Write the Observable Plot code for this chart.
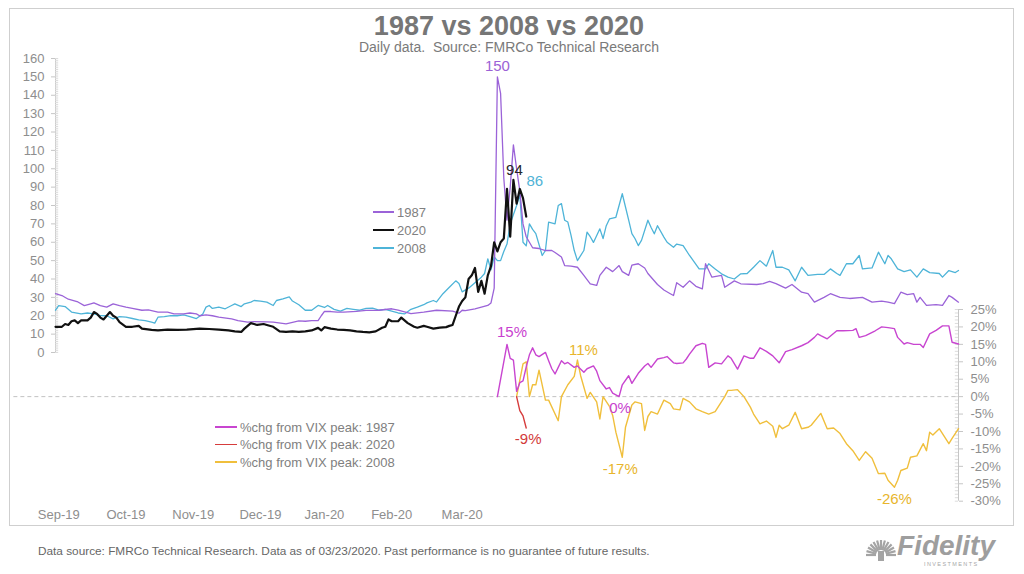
<!DOCTYPE html>
<html>
<head>
<meta charset="utf-8">
<script src="https://cdn.jsdelivr.net/npm/d3@7"></script>
<script src="https://cdn.jsdelivr.net/npm/@observablehq/plot@0.6"></script>
<style>
  html, body { margin:0; padding:0; background:#fff; }
  body { width:1024px; height:574px; overflow:hidden; position:relative; font-family:"Liberation Sans", Arial, Helvetica, sans-serif; }
  #frame { position:absolute; left:9px; top:8px; width:1005px; height:518px; border:1px solid #cfcfcf; box-sizing:border-box; }
  .layer { position:absolute; left:0; top:0; }
  #title { position:absolute; left:0; width:1018px; top:13px; text-align:center; font-size:27px; line-height:27px; font-weight:bold; color:#767676; }
  #subtitle { position:absolute; left:0; width:1018px; top:40px; text-align:center; font-size:14px; line-height:14px; color:#7a7a7a; white-space:pre; }
  .leg { position:absolute; font-size:13px; line-height:13px; color:#808080; white-space:pre; display:flex; align-items:center; }
  .leg .sw { display:inline-block; margin-right:3px; }
  #foot { position:absolute; left:38px; top:545px; font-size:11.8px; line-height:12px; color:#666; white-space:pre; }
  #logo { position:absolute; left:862px; top:531px; }
</style>
</head>
<body>
<div id="frame"></div>
<div id="chart"></div>
<div id="title">1987 vs 2008 vs 2020</div>
<div id="subtitle">Daily data.  Source: FMRCo Technical Research</div>
<div id="legends"></div>
<div id="foot">Data source: FMRCo Technical Research. Data as of 03/23/2020. Past performance is no guarantee of future results.</div>
<div id="logo"></div>
<script>
// ---------------- DATA (trading-day index, value) ----------------
const vix1987 = [[0,32],[2,31],[4,29],[7,27.5],[9,25.5],[11,26.5],[12,27],[14,25.5],[16,24.7],[18,26.5],[20,25.5],[22,24.7],[24,24],[27,23],[29,23.2],[32,22],[35,22],[37,21],[40,21],[42,21.5],[44,21],[45,20],[47,20.5],[49,20],[51,19.2],[55,18.3],[57,17.4],[60,16.5],[62,16.8],[66,16.7],[68,16.5],[72,15.6],[73,16],[76,17.2],[78,17],[80,17.4],[82,17.4],[83,20],[84,22.4],[86,22.3],[88,22],[90,22],[94,22.4],[97,22.9],[101,23],[105,23.8],[107,23],[111,21.2],[115,22],[119,23],[124,22.5],[126,21.4],[127,23],[128,22.8],[131,23.8],[133,24.7],[135,25.6],[136,27],[137,35],[138,150],[139,141],[140,95],[141,72],[142,90],[143,113],[144,100],[145,88],[146,70],[147,63],[148,60],[149,57],[151,56.6],[153,55.5],[155,55.5],[156,54.4],[158,52],[159,47.3],[161,47],[163,46.4],[165,42],[167,37.4],[169,36.5],[170,42],[172,46.4],[174,44],[176,47.3],[177,44],[179,42],[180,47.5],[182,48.3],[184,46],[185,43],[188,37],[190,34],[192,32],[193,31],[194,38],[196,35.5],[198,39],[200,36],[202,34.6],[203,48.3],[205,41],[208,42],[209,35.5],[212,39],[214,37.4],[219,37],[221,37.5],[223,38.7],[225,37.5],[228,35],[230,37],[233,32.8],[235,32],[237,27.4],[240,30],[242,32],[245,30],[248,29.4],[252,30],[255,27.4],[258,28],[260,27.4],[262,26.6],[264,32.8],[266,31.5],[268,32],[269,27.4],[270,30],[272,25.6],[275,26],[277,25.6],[279,31],[280,30],[282,27.4]];

const vix2020 = [[0,14],[2,14],[3,15.5],[4,15],[5,17],[6,17.5],[7,16],[8,17.5],[10,17.5],[11,19],[12,22],[13,21],[14,19],[15,18],[16,20],[17,22],[18,20],[19,19],[20,16.5],[22,14],[24,14],[26,14.5],[27,13],[30,12.3],[32,12],[35,12.5],[38,12.3],[41,12.5],[45,13],[48,12.8],[51,12.5],[54,12],[56,11.5],[58,11.2],[59,13],[61,16],[62,15.5],[63,15],[65,15.5],[66,15],[68,14],[70,11.5],[72,11.2],[74,11.5],[76,11.2],[78,11.5],[80,12],[82,13.4],[83,12],[84,13.8],[86,13],[88,12.5],[90,12.3],[92,12],[94,11.5],[96,11.2],[98,11],[100,11.5],[102,13.5],[103,14],[104,18],[105,17],[107,17],[108,19],[109,17.5],[110,16],[112,14],[113,13.5],[115,14.5],[116,14],[118,13],[120,13.5],[122,13.8],[123,14.5],[124,15],[125,20],[126,25],[127,28],[128,30],[129,40],[130,42],[131,46],[132,33],[133,39],[134,32],[135,42],[136,47],[137,60],[138,55],[139,60],[140,62],[141,89],[142,63],[143,94],[144,81],[145,89],[146,84],[147,74]];

const vix2008 = [[0,23],[1,25.5],[3,25],[5,22],[8,21],[10,21.5],[12,21],[14,20.1],[16,20],[18,18.3],[20,19.5],[22,19.2],[24,18.5],[26,17.8],[28,17.4],[30,16.5],[31,16],[32,19.2],[34,19.5],[36,20.1],[38,20],[40,20.5],[42,19.5],[44,18.5],[46,21],[47,24.7],[48,25.6],[49,24],[51,24.7],[53,23.8],[55,25.6],[56,26.5],[58,25],[59,26.5],[61,27.4],[62,28.3],[64,28],[66,27.4],[68,25.6],[69,28.3],[71,29.2],[73,30.3],[74,28],[76,26],[78,23],[80,23],[82,25.6],[84,24.5],[85,25.6],[87,23.5],[89,22.5],[91,24],[93,23.5],[95,23],[97,24],[99,24.2],[101,23],[103,23.5],[105,22.5],[107,21.5],[109,21],[111,23.5],[113,24.7],[115,26],[116,27],[118,28.3],[119,27.5],[121,32],[123,35.5],[125,39],[126,37.5],[127,33],[129,35],[131,38],[133,41],[134,43],[135,51],[136,45],[137,52],[138,50],[139,50],[140,55],[141,59],[142,70],[144,80],[145,86],[146,60],[147,58],[148,70],[149,67],[150,64.7],[152,52.8],[153,55.5],[154,71],[156,70],[157,80],[158,81],[159,72],[160,71],[161,63.7],[162,55.5],[163,50],[165,55.5],[166,65.5],[167,63],[168,59.9],[170,67.3],[171,62],[172,69],[173,72.7],[175,73.6],[177,86.4],[179,72],[180,64.7],[181,61.9],[182,58.2],[183,61],[185,72],[186,68],[187,64.6],[188,69],[190,62.8],[191,60],[193,57.3],[194,59],[196,58.2],[198,52.8],[201,45.5],[203,45.5],[204,48.3],[206,45.5],[208,42.8],[210,41],[212,40],[214,42.8],[216,43],[218,46.4],[220,50],[222,47],[224,55.5],[225,46.4],[227,46.4],[229,45],[231,39],[233,46.4],[235,42],[238,42.5],[240,42.5],[242,45.5],[244,43],[245,42],[247,48.3],[249,48.3],[251,52.8],[252,45.5],[255,46],[257,54.6],[259,48.3],[260,52.8],[261,51],[263,45.5],[265,44],[267,45],[269,41],[271,45.5],[273,43.5],[276,43],[277,41],[279,44.6],[281,43.5],[282,44.6]];

const pct1987 = [[138,0],[141,15],[142,11],[143,10.5],[144,1.5],[145,4],[146,4.5],[147,8.5],[148,12],[149,14],[150,12],[151,11.5],[153,12.7],[154,10.3],[155,8],[156,6.5],[157,8.4],[158,10.3],[159,9.4],[160,9.8],[162,8.4],[163,8.8],[165,7],[166,8],[168,8.8],[169,7.3],[170,4.6],[172,2.2],[173,2.6],[174,1],[176,0],[177,3.4],[179,6],[180,3.8],[182,6.7],[184,8.8],[185,9.5],[186,8.4],[188,10.8],[190,11.2],[191,11.5],[193,9.7],[194,9.5],[196,9.7],[197,10.8],[198,12.2],[200,14.6],[202,15.3],[203,15],[204,8.4],[206,9.7],[208,9.4],[210,11.7],[211,11],[213,7.9],[215,11.7],[217,11],[218,11],[220,14],[222,13],[224,11.7],[226,9.7],[228,12.9],[230,13.5],[233,14.6],[235,15.5],[237,17],[238,18],[239,17.5],[241,16.6],[244,18.9],[246,18.9],[249,19],[250,19.5],[251,17],[253,17.5],[256,18.9],[258,20],[260,19.8],[262,19.5],[263,17],[265,15.1],[266,15.5],[268,15],[270,15],[271,14.1],[273,18],[275,19],[277,20.3],[279,20.3],[280,15.6],[282,15.1]];

const pct2020 = [[144,0],[145,-4],[146,-5.5],[147,-9]];

const pct2008 = [[144,0],[146,9.4],[147,10],[148,0],[149,3.4],[150,3.4],[151,7.6],[153,-1],[154,-1],[157,-6.9],[158,0],[160,3.4],[162,5.8],[163,10.5],[164,6],[166,-0.5],[167,1.2],[169,-1.5],[170,-6.4],[171,0],[173,-2.8],[174,-5.4],[175,-10.2],[177,-17.4],[178,-8.8],[180,-2.4],[181,-1.5],[183,-2],[184,-9.7],[185,-5.7],[186,-4.3],[188,-5],[190,-1],[192,-2],[193,-3.5],[195,-3.8],[196,-0.5],[198,-1.5],[200,-3.5],[202,-4.3],[204,-5],[206,-4.3],[208,-1.4],[209,0],[210,1.8],[211,1.8],[213,2],[215,0],[217,-3],[218,-5],[220,-7.8],[222,-7],[224,-8.5],[225,-11.7],[226,-8.2],[227,-9.2],[229,-8.2],[231,-4.5],[233,-9.2],[235,-8.8],[236,-8.2],[239,-4.8],[241,-9.2],[243,-9],[245,-10.6],[247,-13.5],[249,-15.5],[251,-18.3],[253,-15.8],[255,-17.7],[257,-22.1],[259,-22],[260,-24],[262,-26],[263,-24],[264,-21.2],[266,-20.5],[267,-17.4],[269,-17],[271,-13.5],[272,-15.5],[273,-10.2],[274,-11],[276,-9.2],[279,-13.5],[280,-12],[282,-9.2]];

const monthTicks  = [1, 22, 43, 64, 84, 105, 127];
const monthLabels = ["Sep-19","Oct-19","Nov-19","Dec-19","Jan-20","Feb-20","Mar-20"];
const vixTicks = d3.range(0, 161, 10);
const pctTicks = d3.range(-30, 26, 5);

const topLabels   = ["150", "94", "86"];
const topLabelSeries = ["1987", "2020", "2008"];
const topLabelDays = [138, 143, 145];
const pctLabels   = ["15%", "-9%", "11%", "0%", "-17%", "-26%"];
const pctLabelSeries = ["1987", "2020", "2008", "1987", "2008", "2008"];
const pctLabelDays = [141, 147, 163, 176, 177, 262];

// ---------------- STYLE ----------------
const FONT = '"Liberation Sans", Arial, Helvetica, sans-serif';
const COL = {
  v1987: "#9b63d8", v2020: "#111111", v2008: "#4eb4d8",
  p1987: "#c845d0", p2020: "#d63c3c", p2008: "#f0bf3c"
};
const AXIS_TEXT = "#8e8e8e", AXIS_LINE = "#c6c6c6", MINOR = "#dcdcdc";
const X_DOMAIN = [0, 282];
const W = 1024, H = 574;
const topLabelStyle = [
  {fill: "#9b62d6", dx: 0, dy: -11},
  {fill: "#262626", dx: 1, dy: -10},
  {fill: "#4fb3d6", dx: 15, dy: -13}
];
const pctLabelStyle = [
  {fill: "#c83fcf", dx: 5, dy: -12},
  {fill: "#d23a3a", dx: 2, dy: 11},
  {fill: "#e8b52c", dx: 6, dy: -10},
  {fill: "#c83fcf", dx: 1, dy: 12},
  {fill: "#e8b52c", dx: -2, dy: 12},
  {fill: "#e8b52c", dx: 0, dy: 12}
];
const zeroLineStart = -13;

const rows = arr => arr.map(([d, v]) => ({d, v}));
const vixSeries = {"1987": vix1987, "2020": vix2020, "2008": vix2008};
const pctSeries = {"1987": pct1987, "2020": pct2020, "2008": pct2008};
const valueAt = (arr, day) => (arr.find(p => p[0] === day) || [day, null])[1];

// ---------------- TOP PANEL (VIX level, left axis) ----------------
const topPlot = Plot.plot({
  width: W, height: H,
  marginLeft: 55, marginRight: 66, marginTop: 58, marginBottom: 222,
  x: {domain: X_DOMAIN, axis: null, label: null},
  y: {domain: [0, 160], label: null},
  style: {background: "transparent", fontFamily: FONT},
  marks: [
    Plot.ruleX([X_DOMAIN[0]], {stroke: AXIS_LINE}),
    Plot.ruleY(d3.range(0, 161, 1), {x1: X_DOMAIN[0], x2: X_DOMAIN[0] + 1, stroke: MINOR}),
    Plot.axisY({ticks: vixTicks, tickSize: 4, tickPadding: 7, stroke: AXIS_LINE, fill: AXIS_TEXT, fontSize: 13, label: null}),
    Plot.line(rows(vix2008), {x: "d", y: "v", stroke: COL.v2008, strokeWidth: 1.3, strokeLinejoin: "round"}),
    Plot.line(rows(vix1987), {x: "d", y: "v", stroke: COL.v1987, strokeWidth: 1.3, strokeLinejoin: "round"}),
    Plot.line(rows(vix2020), {x: "d", y: "v", stroke: COL.v2020, strokeWidth: 2.2, strokeLinejoin: "round"}),
    ...topLabels.map((t, i) => Plot.text(
      [{d: topLabelDays[i], v: valueAt(vixSeries[topLabelSeries[i]], topLabelDays[i]), t}],
      {x: "d", y: "v", text: "t", fontSize: 15, ...topLabelStyle[i]}))
  ]
});
topPlot.classList.add("layer");

// ---------------- BOTTOM PANEL (% change, right axis) ----------------
const bottomPlot = Plot.plot({
  width: W, height: H,
  marginLeft: 55, marginRight: 66, marginTop: 309, marginBottom: 73.3,
  x: {domain: X_DOMAIN, label: null},
  y: {domain: [-30, 25], label: null},
  style: {background: "transparent", fontFamily: FONT},
  marks: [
    Plot.ruleX([X_DOMAIN[1]], {stroke: AXIS_LINE}),
    Plot.ruleY(d3.range(-30, 26, 1), {x1: X_DOMAIN[1] - 1, x2: X_DOMAIN[1], stroke: MINOR}),
    Plot.axisY({anchor: "right", ticks: pctTicks, tickFormat: d => `${d}%`, tickSize: 4, tickPadding: 8, stroke: AXIS_LINE, fill: AXIS_TEXT, fontSize: 13, label: null}),
    Plot.axisX({ticks: monthTicks, tickFormat: d => monthLabels[monthTicks.indexOf(d)], tickSize: 0, tickPadding: 9, fill: AXIS_TEXT, fontSize: 13, label: null}),
    Plot.ruleY([0], {x1: zeroLineStart, x2: X_DOMAIN[1], stroke: "#c2c2c2", strokeDasharray: "4,3"}),
    Plot.line(rows(pct2008), {x: "d", y: "v", stroke: COL.p2008, strokeWidth: 1.4, strokeLinejoin: "round"}),
    Plot.line(rows(pct1987), {x: "d", y: "v", stroke: COL.p1987, strokeWidth: 1.4, strokeLinejoin: "round"}),
    Plot.line(rows(pct2020), {x: "d", y: "v", stroke: COL.p2020, strokeWidth: 1.4, strokeLinejoin: "round"}),
    ...pctLabels.map((t, i) => Plot.text(
      [{d: pctLabelDays[i], v: valueAt(pctSeries[pctLabelSeries[i]], pctLabelDays[i]), t}],
      {x: "d", y: "v", text: "t", fontSize: 15, ...pctLabelStyle[i]}))
  ]
});
bottomPlot.classList.add("layer");

const chart = document.getElementById("chart");
chart.appendChild(topPlot);
chart.appendChild(bottomPlot);

// ---------------- LEGENDS ----------------
const legendTop = [["1987", COL.v1987, 1.3], ["2020", COL.v2020, 2], ["2008", COL.v2008, 1.3]];
const legendBottom = [["%chg from VIX peak: 1987", COL.p1987, 1.3], ["%chg from VIX peak: 2020", COL.p2020, 1.3], ["%chg from VIX peak: 2008", COL.p2008, 1.3]];
const legWrap = document.getElementById("legends");
function addLegend(items, left, firstY, step, swW) {
  items.forEach(([label, color, lw], i) => {
    const div = document.createElement("div");
    div.className = "leg";
    div.style.left = left + "px";
    div.style.top = (firstY + i * step - 7) + "px";
    div.style.height = "14px";
    const sw = document.createElement("span");
    sw.className = "sw";
    sw.style.width = swW + "px";
    sw.style.height = lw + "px";
    sw.style.background = color;
    div.appendChild(sw);
    div.appendChild(document.createTextNode(label));
    legWrap.appendChild(div);
  });
}
addLegend(legendTop, 373, 212, 18, 21);
addLegend(legendBottom, 215, 427, 17.5, 22);

// ---------------- LOGO ----------------
const logo = d3.select("#logo").append("svg").attr("width", 150).attr("height", 38);
const g = logo.append("g").attr("transform", "translate(19,24)");
d3.range(0, 13).forEach(i => {
  const a = Math.PI + i * Math.PI / 12;
  g.append("line").attr("x1", Math.cos(a) * 5).attr("y1", Math.sin(a) * 5)
    .attr("x2", Math.cos(a) * 15).attr("y2", Math.sin(a) * 15)
    .attr("stroke", "#a4a4a4").attr("stroke-width", 2.2);
});
g.append("rect").attr("x", -3).attr("y", -4).attr("width", 6).attr("height", 10).attr("fill", "#a4a4a4");
logo.append("text").attr("x", 35).attr("y", 24).attr("font-family", FONT).attr("font-weight", "bold")
  .attr("font-style", "italic").attr("font-size", 28).attr("fill", "#9e9e9e").text("Fidelity");
logo.append("text").attr("x", 62).attr("y", 35).attr("font-family", FONT).attr("font-size", 5.5)
  .attr("letter-spacing", 1.4).attr("fill", "#a8a8a8").text("INVESTMENTS");
</script>
</body>
</html>
